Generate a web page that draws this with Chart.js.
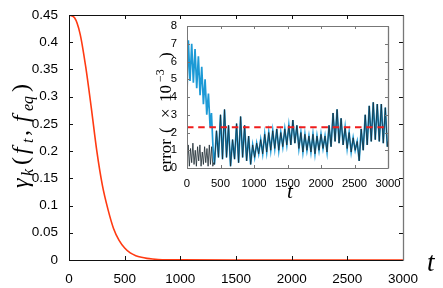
<!DOCTYPE html>
<html>
<head>
<meta charset="utf-8">
<script src="https://cdn.jsdelivr.net/npm/chart.js@4/dist/chart.umd.min.js"></script>
<style>
  html, body { margin: 0; padding: 0; background: #fff; }
  #wrap { position: relative; width: 443px; height: 288px; }
  #main { position: absolute; left: 0; top: 0; }
  #inset { position: absolute; left: 140px; top: 10px; }
</style>
</head>
<body>
<div id="wrap">
  <canvas id="main" width="443" height="288"></canvas>
  <canvas id="inset" width="265" height="195"></canvas>
</div>
<script>
/* ================================
   DATA
================================ */

// main curve: gamma_k(f_t, f_eq) vs t
const gammaT   = [0, 50, 100, 150, 200, 250, 300, 350, 400, 450, 500, 550, 600, 650, 700, 750, 800, 900, 1000, 1500, 2000, 2500, 3000];
const gammaVal = [0.45, 0.445, 0.415, 0.355, 0.28, 0.20, 0.137, 0.093, 0.058, 0.036, 0.022, 0.013, 0.008, 0.005, 0.003, 0.0018, 0.001, 0.0004, 0.0002, 0, 0, 0, 0];

// inset: blue series, early part (x10^-3)
const blueT   = [0, 20, 45, 70, 95, 120, 145, 170, 195, 220, 245, 270, 295, 320, 345, 365, 390];
const blueErr = [4.2, 7.2, 4.9, 7.0, 4.8, 6.7, 4.5, 6.3, 4.1, 5.7, 3.6, 5.0, 3.0, 4.2, 2.3, 3.1, 1.0];

// inset: black series, early part
const blackT   = [0, 18, 35, 53, 70, 88, 105, 123, 140, 158, 175, 193, 210, 228, 245, 263, 280, 298, 315, 333, 350, 368, 385, 400];
const blackErr = [0.2, 1.3, 0.1, 1.1, 0.3, 1.4, 0.2, 1.0, 0.1, 1.2, 0.4, 1.3, 0.1, 0.9, 0.2, 1.2, 0.3, 1.1, 0.1, 1.3, 0.2, 1.2, 0.1, 0.3];

// inset: both series overlap after t ~ 400
const sharedT = [410, 440, 470, 500, 530, 560, 590, 620, 650, 680, 710, 740, 770, 800, 830, 860, 890, 920, 950, 980,
  1010, 1040, 1070, 1100, 1130, 1160, 1190, 1220, 1250, 1280, 1310, 1340, 1370, 1400, 1430, 1460, 1490, 1520, 1550, 1580,
  1610, 1640, 1670, 1700, 1730, 1760, 1790, 1820, 1850, 1880, 1910, 1940, 1970, 2000, 2030, 2060, 2090, 2120, 2150, 2180,
  2210, 2240, 2270, 2300, 2330, 2360, 2390, 2420, 2450, 2480, 2510, 2540, 2570, 2600, 2630, 2660, 2690, 2720, 2750, 2780,
  2810, 2840, 2870, 2900, 2930, 2960, 2990, 3000];
const sharedErr = [0.2, 2.1, 0.6, 3.0, 0.5, 3.3, 0.6, 2.4, 0.1, 1.6, 0.5, 2.5, 0.3, 2.9, 0.6, 2.4, 0.4, 1.8, 0.2, 1.3,
  0.6, 1.4, 0.8, 1.6, 0.8, 1.9, 0.9, 2.0, 1.0, 2.1, 1.1, 2.2, 1.0, 2.0, 1.2, 2.2, 1.3, 2.4, 1.3, 2.7,
  1.4, 2.4, 1.1, 2.0, 0.9, 1.9, 1.0, 1.8, 0.9, 1.9, 0.8, 1.8, 1.0, 1.9, 1.1, 1.8, 0.9, 2.4, 1.2, 3.1,
  1.5, 3.3, 1.4, 2.8, 1.3, 2.3, 1.1, 2.0, 0.9, 1.7, 1.0, 1.5, 0.4, 2.2, 1.0, 3.0, 1.3, 3.5, 1.5, 3.7,
  1.6, 3.6, 1.5, 3.6, 1.4, 3.4, 1.2, 1.5];

// inset: reference level
const levelT   = [0, 3000];
const levelErr = [2.3, 2.3];

const mainXTicks  = [0, 500, 1000, 1500, 2000, 2500, 3000];
const mainYTicks  = [0, 0.05, 0.1, 0.15, 0.2, 0.25, 0.3, 0.35, 0.4, 0.45];
const insetXTicks = [0, 500, 1000, 1500, 2000, 2500, 3000];
const insetYTicks = [0, 1, 2, 3, 4, 5, 6, 7, 8];

/* ================================
   HELPERS
================================ */

const pts = (xs, ys) => xs.map((x, i) => ({ x: x, y: ys[i] }));

// inward tick marks + frame
function frame(len, color, rightColor) {
  return {
    id: "frame",
    afterDraw(chart) {
      const { ctx, chartArea: a, scales: { x, y } } = chart;
      ctx.save();
      ctx.lineWidth = 1;
      ctx.strokeStyle = color;
      ctx.beginPath();
      x.ticks.forEach(t => {
        const px = Math.round(x.getPixelForValue(t.value)) + 0.5;
        ctx.moveTo(px, a.bottom); ctx.lineTo(px, a.bottom - len);
        ctx.moveTo(px, a.top); ctx.lineTo(px, a.top + len);
      });
      y.ticks.forEach(t => {
        const py = Math.round(y.getPixelForValue(t.value)) + 0.5;
        ctx.moveTo(a.left, py); ctx.lineTo(a.left + len, py);
        ctx.moveTo(a.right, py); ctx.lineTo(a.right - len, py);
      });
      ctx.stroke();
      const l = Math.round(a.left) + 0.5, r = Math.round(a.right) + 0.5;
      const t = Math.round(a.top) + 0.5, b = Math.round(a.bottom) + 0.5;
      ctx.beginPath();
      ctx.moveTo(r, t); ctx.lineTo(l, t); ctx.lineTo(l, b); ctx.lineTo(r, b);
      ctx.stroke();
      ctx.strokeStyle = rightColor;
      ctx.lineWidth = 1.3;
      ctx.beginPath();
      ctx.moveTo(r, t); ctx.lineTo(r, b);
      ctx.stroke();
      ctx.restore();
    }
  };
}

// pieces: [text, font, dy, offset along the text]; drawn from (x, y)
function drawMath(ctx, pieces, x, y, rot) {
  ctx.save();
  ctx.translate(x, y);
  ctx.rotate(rot);
  ctx.fillStyle = "#000";
  ctx.textBaseline = "alphabetic";
  pieces.forEach(p => {
    ctx.font = p[1];
    ctx.fillText(p[0], p[3] || 0, p[2]);
  });
  ctx.restore();
}

const SERIF = '"Liberation Serif", "Times New Roman", serif';
const SANS = '"Liberation Sans", Arial, sans-serif';

/* ================================
   MAIN CHART
================================ */

const mainTitles = {
  id: "mainTitles",
  afterDraw(chart) {
    const ctx = chart.ctx;
    const big = "italic 24px " + SERIF, sub = "italic 16px " + SERIF, up = "24px " + SERIF;
    drawMath(ctx, [
      ["γ", big, 0, 0],
      ["k", sub, 5, 12],
      ["(", up, 0, 23],
      ["f", big, 0, 34],
      ["t", sub, 5, 45],
      [",", up, 0, 52],
      ["f", big, 0, 66],
      ["eq", sub, 5, 77],
      [")", up, 0, 96]
    ], 28, 188, -Math.PI / 2);
    drawMath(ctx, [["t", "italic 27px " + SERIF, 0, 0]], 427, 271, 0);
  }
};

new Chart(document.getElementById("main"), {
  type: "line",
  data: {
    datasets: [{
      data: pts(gammaT, gammaVal),
      borderColor: "#ff3a12",
      borderWidth: 1.6,
      pointRadius: 0,
      cubicInterpolationMode: "monotone",
      fill: false
    }]
  },
  options: {
    responsive: false,
    animation: false,
    devicePixelRatio: 1,
    layout: { padding: { top: 15, right: 40, left: 0, bottom: 0 } },
    plugins: { legend: { display: false }, tooltip: { enabled: false } },
    scales: {
      x: {
        type: "linear", min: 0, max: 3000,
        afterFit: s => { s.height = 28; },
        afterBuildTicks: s => { s.ticks = mainXTicks.map(v => ({ value: v })); },
        grid: { display: false }, border: { display: false },
        ticks: {
          padding: 3, maxRotation: 0, autoSkip: false, color: "#000", font: { family: SANS, size: 13.5 },
          callback: v => String(v)
        }
      },
      y: {
        type: "linear", min: 0, max: 0.45,
        afterFit: s => { s.width = 69; },
        afterBuildTicks: s => { s.ticks = mainYTicks.map(v => ({ value: v })); },
        grid: { display: false }, border: { display: false },
        ticks: {
          padding: 3, autoSkip: false, color: "#000", font: { family: SANS, size: 13.5 },
          callback: v => String(Number(v.toFixed(2)))
        }
      }
    }
  },
  plugins: [frame(4, "#111", "#777"), mainTitles]
});

/* ================================
   INSET
================================ */

const insetTitles = {
  id: "insetTitles",
  afterDraw(chart) {
    const ctx = chart.ctx;
    const f = "17px " + SERIF;
    drawMath(ctx, [
      ["error", f, 0, 0],
      ["(", f, 0, 39],
      ["×", f, 0, 54],
      ["10", f, 0, 70],
      ["−3", "12px " + SERIF, -7, 90],
      [")", f, 0, 114]
    ], 31, 172 - 10, -Math.PI / 2);
    drawMath(ctx, [["t", "italic 21px " + SERIF, 0, 0]], 147, 188, 0);
  }
};

new Chart(document.getElementById("inset"), {
  type: "line",
  data: {
    datasets: [
      {
        data: pts(levelT, levelErr),
        borderColor: "#f01c1c",
        borderWidth: 2,
        borderDash: [6.5, 4.7],
        pointRadius: 0
      },
      {
        data: pts(blackT.concat(sharedT), blackErr.concat(sharedErr)),
        borderColor: "#1a2830",
        borderWidth: 0.8,
        pointRadius: 0
      },
      {
        data: pts(blueT.concat(sharedT), blueErr.concat(sharedErr)),
        borderColor: "#1c9ad6",
        borderWidth: 1.7,
        pointRadius: 0
      }
    ]
  },
  options: {
    responsive: false,
    animation: false,
    devicePixelRatio: 1,
    layout: { padding: { top: 16, right: 17, left: 0, bottom: 0 } },
    plugins: { legend: { display: false }, tooltip: { enabled: false } },
    scales: {
      x: {
        type: "linear", min: 0, max: 3000,
        afterFit: s => { s.height = 37; },
        afterBuildTicks: s => { s.ticks = insetXTicks.map(v => ({ value: v })); },
        grid: { display: false }, border: { display: false },
        ticks: {
          padding: 1, maxRotation: 0, autoSkip: false, color: "#000", font: { family: SANS, size: 11.3 },
          callback: v => String(v)
        }
      },
      y: {
        type: "linear", min: 0, max: 8,
        afterFit: s => { s.width = 47; },
        afterBuildTicks: s => { s.ticks = insetYTicks.map(v => ({ value: v })); },
        grid: { display: false }, border: { display: false },
        ticks: {
          padding: 2, autoSkip: false, color: "#000", font: { family: SANS, size: 11.3 },
          callback: v => String(v)
        }
      }
    }
  },
  plugins: [frame(3, "#777", "#777"), insetTitles]
});
</script>
</body>
</html>
